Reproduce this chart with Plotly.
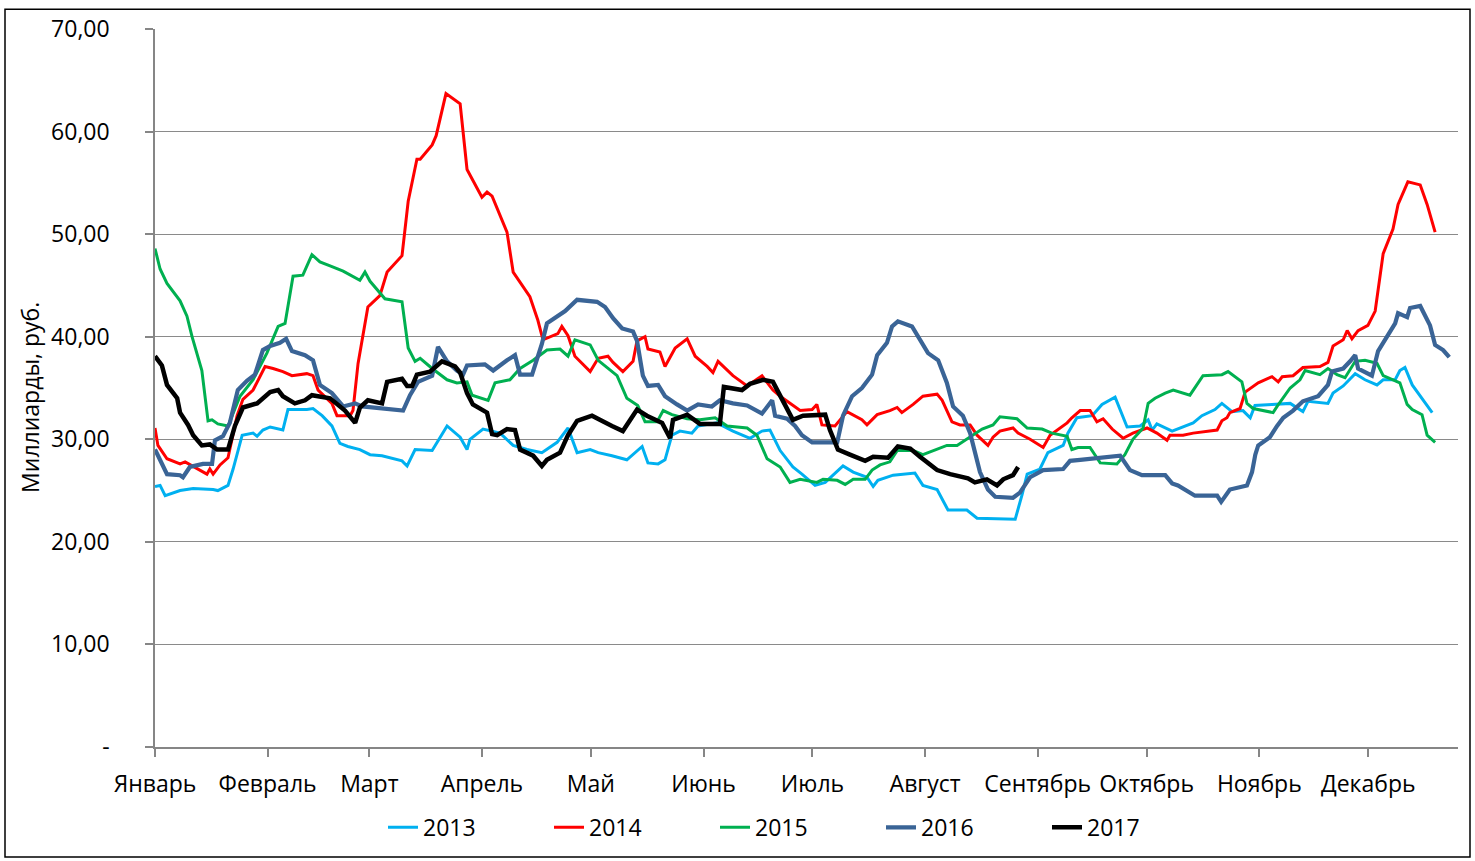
import plotly.graph_objects as go

months = ["Январь", "Февраль", "Март", "Апрель", "Май", "Июнь", "Июль",
          "Август", "Сентябрь", "Октябрь", "Ноябрь", "Декабрь"]
month_starts = [0, 31, 59, 90, 120, 151, 181, 212, 243, 273, 304, 334]
y_ticks = [0, 10, 20, 30, 40, 50, 60, 70]
y_labels = ["-", "10,00", "20,00", "30,00", "40,00", "50,00", "60,00", "70,00"]

d2013 = [0, 1.4, 2.8, 6.9, 10.5, 16.0, 17.3, 20.1, 21.5, 24.0, 27.0, 28.1, 29.7, 31.7, 35.2, 36.6, 41.8, 43.5, 46.0, 48.7,
         50.9, 53.1, 56.4, 59.2, 62.5, 68.0, 69.4, 71.6, 76.3, 77.6, 80.4, 84.0, 85.9, 86.7, 90.3, 95.0, 98.6, 102.4, 106.5,
         110.7, 113.7, 116.2, 119.8, 122.0, 125.8, 129.9, 134.1, 135.7, 138.5, 140.4, 142.3, 144.5, 147.8, 149.5, 154.7,
         159.1, 163.8, 167.1, 169.3, 172.1, 175.6, 178.1, 181.7, 184.5, 189.4, 192.2, 196.0, 197.7, 199.0, 203.2, 209.2,
         211.4, 215.3, 218.3, 223.5, 226.3, 232.6, 236.8, 238.7, 240.1, 243.6, 245.8, 250.0, 251.3, 253.8, 258.0, 260.7,
         264.3, 267.6, 271.2, 273.4, 274.5, 275.8, 280.0, 285.8, 288.2, 291.8, 293.7, 296.5, 299.5, 301.5, 302.8, 307.5,
         312.5, 316.0, 317.4, 322.9, 324.3, 327.1, 330.4, 333.1, 336.4, 338.1, 341.4, 342.7, 344.1, 346.1, 348.8, 350.2, 351.6]
v2013 = [25.4, 25.5, 24.5, 25.0, 25.2, 25.1, 25.0, 25.5, 27.1, 30.4, 30.6, 30.3, 30.9, 31.2, 30.9, 32.9, 32.9, 33.0, 32.3, 31.3,
         29.6, 29.3, 29.0, 28.5, 28.4, 27.9, 27.4, 29.0, 28.9, 29.7, 31.3, 30.2, 29.0, 30.0, 31.0, 30.6, 29.4, 29.0, 28.7,
         29.7, 31.1, 28.7, 29.0, 28.7, 28.4, 28.0, 29.3, 27.7, 27.6, 28.0, 30.4, 30.8, 30.6, 31.3, 31.6,
         30.8, 30.1, 30.8, 30.9, 28.9, 27.3, 26.6, 25.5, 25.8, 27.4, 26.8, 26.3, 25.4, 26.0, 26.5, 26.7,
         25.5, 25.1, 23.1, 23.1, 22.3, 22.2, 22.2, 24.6, 26.6, 27.1, 28.7, 29.4, 30.6, 32.1, 32.3, 33.4,
         34.1, 31.2, 31.3, 31.9, 30.9, 31.5, 30.8, 31.6, 32.3, 32.9, 33.5, 32.7, 32.8, 32.1, 33.3, 33.4,
         33.5, 32.7, 33.7, 33.5, 34.5, 35.2, 36.4, 35.8, 35.3, 35.8, 35.8, 36.7, 37.0, 35.3, 34.0, 33.3, 32.6]

d2014 = [0, 0.8, 3.3, 6.9, 8.3, 11.8, 14.3, 15.1, 16.0, 17.9, 20.1, 22.6, 24.2, 27.0, 30.3, 32.5, 35.2, 37.7, 41.8, 43.5,
         44.9, 48.7, 50.1, 53.7, 54.5, 55.9, 57.0, 58.6, 61.9, 63.9, 68.0, 69.7, 72.1, 73.0, 76.3, 77.4, 80.1, 84.0, 85.9,
         90.0, 91.4, 92.8, 96.9, 98.6, 103.2, 105.4, 106.8, 110.9, 112.0, 113.7, 115.6, 119.8, 122.0, 124.7, 126.1, 128.8,
         131.6, 132.7, 134.9, 135.7, 139.0, 140.4, 143.2, 146.5, 148.7, 152.0, 153.6, 155.0, 159.1, 163.0, 167.1, 170.1,
         172.1, 174.8, 177.6, 180.9, 182.2, 183.6, 187.2, 190.5, 194.6, 196.0, 198.8, 202.3, 204.3, 205.6, 208.7, 211.4,
         215.3, 216.7, 219.4, 221.6, 224.4, 226.3, 229.3, 230.7, 232.6, 236.2, 237.6, 240.9, 244.5, 246.4, 249.1, 251.1,
         252.4, 254.7, 257.4, 259.3, 261.0, 263.5, 266.5, 269.2, 273.1, 275.8, 278.6, 279.4, 283.0, 285.8, 292.4, 293.7,
         295.1, 295.9, 298.7, 300.1, 303.7, 307.5, 309.2, 310.3, 313.3, 316.0, 320.7, 322.9, 324.3, 327.1, 328.2, 329.5,
         331.2, 333.9, 335.9, 338.1, 340.8, 342.2, 344.9, 348.3, 350.2, 351.6, 352.4]
v2014 = [31.1, 29.4, 28.1, 27.6, 27.8, 27.1, 26.6, 27.1, 26.6, 27.5, 28.2, 32.3, 33.9, 34.8, 37.1, 36.9, 36.6, 36.2, 36.4, 36.2,
         34.8, 33.5, 32.3, 32.3, 32.8, 37.4, 39.6, 42.9, 44.0, 46.3, 47.9, 53.2, 57.3, 57.3, 58.7, 59.6, 63.7, 62.7, 56.3,
         53.6, 54.1, 53.7, 50.2, 46.3, 43.9, 41.6, 39.7, 40.3, 41.0, 40.1, 38.1, 36.6, 37.9, 38.1, 37.5, 36.6,
         37.6, 39.6, 40.0, 38.8, 38.5, 37.1, 38.9, 39.8, 38.1, 37.1, 36.5, 37.6, 36.2, 35.2, 36.2, 34.8,
         34.2, 33.5, 32.8, 32.9, 33.4, 31.4, 31.3, 32.7, 31.9, 31.4, 32.4, 32.8, 33.1, 32.6, 33.4, 34.2,
         34.4, 33.8, 31.7, 31.4, 31.4, 30.4, 29.4, 30.2, 30.8, 31.1, 30.6, 30.0, 29.2, 30.4, 31.1, 31.6,
         32.1, 32.8, 32.8, 31.7, 32.0, 31.0, 30.1, 30.6, 31.1, 30.6, 29.9, 30.4, 30.4, 30.6, 30.9, 31.8,
         32.1, 32.6, 33.0, 34.6, 35.5, 36.1, 35.6, 36.1, 36.2, 37.0, 37.1, 37.5, 39.1, 39.7, 40.6, 39.8,
         40.6, 41.1, 42.5, 48.1, 50.5, 52.9, 55.1, 54.8, 52.9, 51.1, 50.2]

d2015 = [0, 1.4, 3.3, 6.9, 8.8, 10.2, 12.9, 14.6, 15.7, 17.3, 20.1, 23.4, 27.0, 30.8, 33.9, 35.8, 38.0, 40.7, 43.2, 45.4,
         48.2, 51.8, 56.4, 57.8, 59.2, 63.3, 68.0, 69.7, 71.6, 73.0, 76.3, 80.4, 83.1, 85.9, 87.3, 91.7, 93.6, 97.7, 100.5,
         104.1, 107.9, 111.5, 113.7, 115.6, 119.8, 122.0, 127.2, 129.9, 132.9, 134.9, 138.2, 139.9, 142.3, 146.5, 150.0,
         154.2, 157.5, 163.0, 165.7, 168.5, 172.1, 174.8, 177.6, 182.2, 183.9, 187.8, 190.0, 192.2, 195.5, 197.4, 199.6,
         202.3, 204.3, 208.7, 211.4, 215.3, 218.0, 220.8, 224.4, 227.7, 230.7, 232.6, 237.3, 240.1, 244.2, 246.9, 251.1,
         252.4, 254.1, 257.4, 260.2, 264.8, 267.0, 269.2, 272.0, 273.4, 275.3, 278.1, 280.3, 284.9, 288.5, 293.7, 295.4,
         299.2, 300.6, 302.3, 307.8, 308.9, 312.5, 315.2, 316.6, 320.7, 322.9, 325.4, 327.6, 330.4, 333.1, 336.4, 338.1,
         342.7, 344.7, 346.1, 348.8, 350.2, 352.4]
v2015 = [48.6, 46.6, 45.2, 43.5, 42.0, 40.0, 36.7, 31.8, 31.9, 31.5, 31.3, 34.2, 35.8, 38.4, 41.0, 41.3, 45.9, 46.0, 48.0, 47.3,
         46.9, 46.4, 45.5, 46.3, 45.4, 43.7, 43.4, 38.9, 37.6, 37.9, 36.9, 35.8, 35.5, 35.6, 34.3, 33.8, 35.5, 35.8, 36.9,
         37.7, 38.7, 38.8, 38.1, 39.7, 39.2, 37.7, 36.2, 34.0, 33.3, 31.7, 31.7, 32.8, 32.4, 32.0, 31.9,
         32.1, 31.3, 31.1, 30.4, 28.1, 27.3, 25.8, 26.1, 25.8, 26.1, 26.0, 25.6, 26.1, 26.1, 27.0, 27.5,
         27.8, 28.9, 28.9, 28.5, 29.0, 29.4, 29.4, 30.2, 31.0, 31.4, 32.2, 32.0, 31.1, 31.0, 30.6, 30.3,
         29.0, 29.2, 29.2, 27.7, 27.6, 28.5, 30.0, 31.1, 33.5, 34.0, 34.5, 34.8, 34.3, 36.2, 36.3, 36.6,
         35.6, 33.5, 33.0, 32.6, 33.2, 35.0, 35.8, 36.7, 36.3, 36.9, 36.3, 36.0, 37.6, 37.7, 37.4, 36.2,
         35.5, 33.4, 32.9, 32.4, 30.4, 29.7]

d2016 = [0, 1.4, 3.3, 6.9, 7.7, 9.6, 13.2, 15.7, 16.5, 18.7, 20.6, 22.8, 25.3, 27.5, 29.7, 31.7, 34.4, 36.1, 37.7, 41.3,
         43.5, 45.4, 48.7, 51.8, 55.1, 57.0, 61.9, 68.3, 70.2, 72.4, 76.3, 77.9, 80.4, 83.1, 84.8, 85.9, 90.8, 93.1, 96.9,
         99.1, 100.5, 103.8, 106.5, 107.9, 112.9, 116.2, 121.7, 123.9, 126.1, 128.6, 131.6, 132.7, 134.3, 135.7, 138.5,
         140.4, 143.7, 146.5, 149.5, 153.3, 155.5, 159.1, 163.0, 167.1, 169.9, 170.7, 174.0, 176.2, 178.1, 180.9, 183.6,
         187.8, 189.4, 191.9, 194.6, 197.4, 198.8, 201.5, 202.9, 204.5, 208.4, 210.6, 212.8, 215.6, 218.0, 219.7, 222.4,
         224.4, 227.1, 229.3, 231.3, 236.2, 238.1, 240.9, 244.5, 250.0, 251.9, 254.7, 260.7, 265.7, 268.4, 271.7, 278.1,
         280.0, 281.6, 286.3, 292.4, 293.5, 295.9, 300.6, 302.0, 302.9, 303.7, 306.9, 308.9, 310.6, 313.3, 316.0, 320.2,
         322.9, 324.0, 327.1, 329.0, 330.4, 331.2, 335.0, 336.7, 339.4, 341.4, 342.2, 344.7, 345.5, 348.3, 351.0, 352.4,
         354.6, 356.3]
v2016 = [29.0, 27.9, 26.6, 26.5, 26.3, 27.3, 27.6, 27.6, 29.9, 30.3, 31.6, 34.8, 35.7, 36.3, 38.7, 39.1, 39.4, 39.8, 38.6, 38.2,
         37.7, 35.3, 34.5, 33.2, 33.5, 33.2, 33.0, 32.8, 34.3, 35.6, 36.2, 39.0, 37.6, 36.7, 36.3, 37.2, 37.3, 36.7, 37.7,
         38.2, 36.3, 36.3, 39.3, 41.3, 42.5, 43.6, 43.4, 42.9, 41.8, 40.8, 40.5, 39.6, 36.2, 35.2, 35.3,
         34.2, 33.4, 32.8, 33.4, 33.2, 33.8, 33.5, 33.3, 32.5, 33.8, 32.3, 32.0, 31.3, 30.4, 29.7, 29.7,
         29.7, 32.3, 34.2, 35.0, 36.3, 38.2, 39.4, 41.0, 41.5, 41.0, 39.6, 38.4, 37.7, 35.5, 33.2, 32.3,
         30.6, 26.8, 25.1, 24.4, 24.3, 24.8, 26.3, 27.0, 27.1, 27.9, 28.0, 28.2, 28.4, 27.0, 26.5, 26.5,
         25.7, 25.5, 24.5, 24.5, 23.9, 25.1, 25.5, 26.8, 28.5, 29.4, 30.2, 31.3, 32.1, 32.8, 33.7, 34.2,
         35.3, 36.6, 36.9, 37.6, 38.2, 36.9, 36.2, 38.6, 40.1, 41.3, 42.3, 41.9, 42.8, 43.0, 41.1, 39.2,
         38.7, 38.0]

d2017 = [0, 1.9, 3.3, 6.1, 6.9, 9.1, 10.5, 12.9, 15.1, 17.1, 20.1, 22.0, 24.2, 28.1, 31.7, 33.9, 35.2, 38.5, 41.3, 43.2,
         48.2, 50.1, 52.3, 55.1, 56.4, 58.6, 62.5, 63.9, 68.0, 69.4, 70.8, 72.1, 75.7, 79.0, 82.6, 84.0, 85.9, 87.5, 91.4,
         92.8, 94.2, 96.9, 99.1, 100.5, 104.1, 106.5, 107.9, 111.5, 113.7, 116.2, 120.3, 125.8, 128.8, 132.7, 135.4, 139.6,
         141.8, 142.6, 146.5, 150.0, 155.5, 156.6, 161.6, 163.8, 167.4, 170.1, 172.1, 175.6, 178.4, 184.5, 185.8, 188.0,
         191.3, 195.5, 197.7, 201.8, 204.5, 207.9, 210.6, 213.4, 215.3, 218.9, 223.8, 225.7, 229.0, 231.8, 233.5, 236.2,
         237.6]
v2017 = [38.1, 37.2, 35.3, 34.0, 32.6, 31.4, 30.4, 29.4, 29.5, 29.0, 29.0, 31.3, 33.1, 33.5, 34.6, 34.8, 34.2, 33.5, 33.8, 34.3,
         34.0, 33.5, 32.8, 31.6, 33.1, 33.8, 33.5, 35.6, 35.9, 35.2, 35.2, 36.3, 36.6, 37.6, 37.1, 36.5, 34.5, 33.4, 32.6,
         30.5, 30.4, 31.0, 30.9, 29.0, 28.4, 27.4, 28.0, 28.7, 30.4, 31.8, 32.3, 31.3, 30.8, 32.9, 32.3, 31.6,
         30.1, 31.9, 32.4, 31.5, 31.5, 35.1, 34.8, 35.4, 35.8, 35.6, 34.3, 31.9, 32.3, 32.4, 30.9, 29.0,
         28.5, 27.9, 28.3, 28.2, 29.3, 29.1, 28.3, 27.6, 27.0, 26.6, 26.2, 25.8, 26.1, 25.5, 26.1, 26.5,
         27.3]

series = [
    ("2013", d2013, v2013, "#00B0F0", 3.0),
    ("2014", d2014, v2014, "#FF0000", 3.0),
    ("2015", d2015, v2015, "#00B050", 3.0),
    ("2016", d2016, v2016, "#3A6496", 4.2),
    ("2017", d2017, v2017, "#000000", 4.5),
]

fig = go.Figure()
for name, xs, ys, color, width in series:
    fig.add_trace(go.Scatter(x=xs, y=ys, mode="lines", name=name,
                             line=dict(color=color, width=width)))

W, H = 1475, 861
L, R, T, B = 155, 17, 23, 114
pw, ph = W - L - R, H - T - B

def px2paper_x(px):
    return (px - L) / pw

def py2paper_y(py):
    return (H - B - py) / ph

FONT = "Open Sans, Noto Sans, DejaVu Sans"

fig.update_layout(
    width=W, height=H,
    margin=dict(l=L, r=R, t=T, b=B, pad=0),
    paper_bgcolor="white", plot_bgcolor="white",
    font=dict(family=FONT, size=23, color="#000000"),
    showlegend=True,
    legend=dict(orientation="h", x=px2paper_x(383), xanchor="left",
                y=py2paper_y(828), yanchor="middle",
                font=dict(family=FONT, size=23),
                entrywidth=121, entrywidthmode="pixels",
                bgcolor="rgba(0,0,0,0)"),
    xaxis=dict(range=[0, 358.7], tickvals=month_starts, ticktext=months,
               showgrid=False, zeroline=False, showline=True,
               linecolor="#868686", linewidth=1.5,
               ticks="outside", ticklen=8, tickcolor="#868686", tickwidth=1.5,
               ticklabelstandoff=8,
               tickfont=dict(family=FONT, size=23)),
    yaxis=dict(range=[0, 70], tickvals=y_ticks, ticktext=y_labels,
               showgrid=True, gridcolor="#8a8a8a", gridwidth=1.4,
               zeroline=False, showline=True, linecolor="#868686", linewidth=1.5,
               ticks="outside", ticklen=8, tickcolor="#868686", tickwidth=1.5,
               ticklabelstandoff=31,
               tickfont=dict(family=FONT, size=23)),
    annotations=[dict(text="Миллиарды, руб.", xref="paper", yref="paper",
                      x=px2paper_x(30), y=py2paper_y(395), showarrow=False,
                      textangle=-90, xanchor="center", yanchor="middle",
                      font=dict(family=FONT, size=23))],
    shapes=[dict(type="rect", xref="paper", yref="paper",
                 x0=px2paper_x(5), x1=px2paper_x(1470),
                 y0=py2paper_y(858), y1=py2paper_y(3),
                 line=dict(color="black", width=1.5), fillcolor="rgba(0,0,0,0)",
                 layer="above")],
)

fig.write_html("out.html", config={"displayModeBar": False},
               post_script="document.body.style.margin='0';document.body.style.padding='0';")
